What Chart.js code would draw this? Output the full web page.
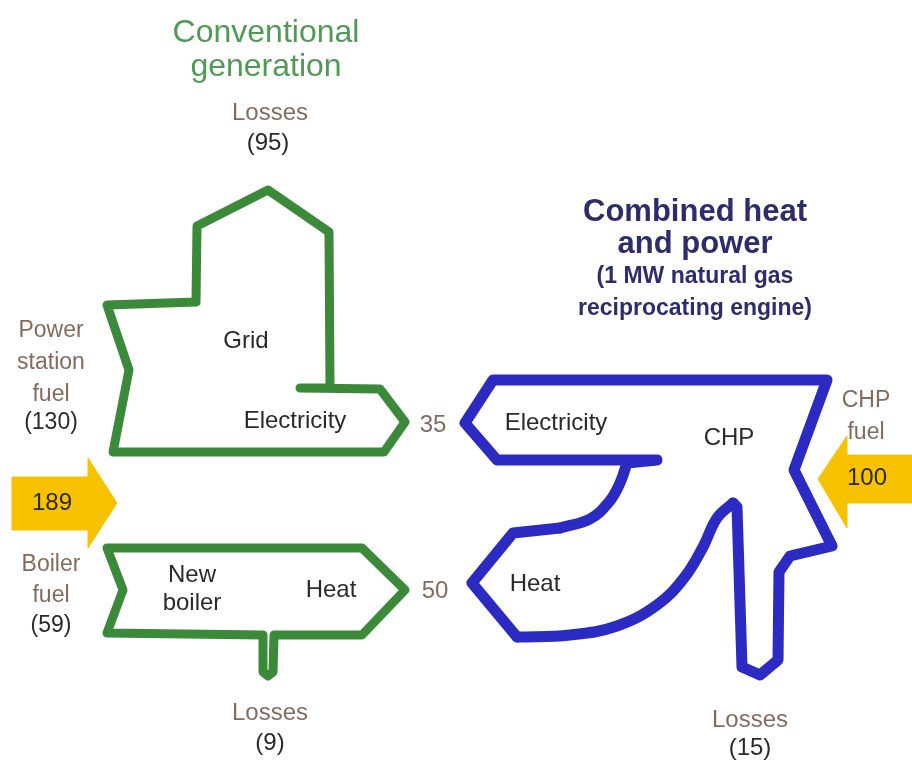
<!DOCTYPE html>
<html>
<head>
<meta charset="utf-8">
<script src="https://cdn.jsdelivr.net/npm/chart.js@4/dist/chart.umd.min.js"></script>
<style>
  html, body { margin: 0; padding: 0; background: #fff; }
  #wrap { width: 912px; height: 763px; }
</style>
</head>
<body>
<div id="wrap"><canvas id="diagram" width="912" height="763"></canvas></div>
<script>
// Outline vertices (diagram units = reference pixels)
const gridShape = [[107,305],[129,370],[113,452],[384,452],[405,422],[380,389],[300,388],[330,388],[329,232],[268,190],[197,226],[196,302],[107,305]];
const boilerShape = [[107,548],[362,548],[405,590],[362,635],[274,635],[273,672],[268,676],[263,672],[263,635],[107,633],[123,590],[107,548]];
const chpOuter = [[627,463],[657,460],[497,460],[465,423],[493,380],[827,380],[794,470],[832,546],[790,556],[779,572],[778,660],[760,675],[742,667],[737,507],[733,503]];
const chpHeatLower = [[733,503],[717,518],[703,547],[684,578],[657,605],[617,626],[570,635],[517,637]];
const chpHeatTip = [[517,637],[472,583],[513,533],[560,528]];
const chpHeatUpper = [[560,528],[590,519],[609,502],[620,483],[627,463]];
const fuelInArrow = [[12,477],[88,477],[88,458],[117,503],[88,548],[88,530],[12,530],[12,477]];
const chpFuelArrow = [[912,455],[847,455],[847,436],[818,479],[847,528],[847,503],[912,503],[912,455]];

// Energy values
const flowLabels = ['Power station fuel', 'Boiler fuel', 'Grid losses', 'Boiler losses', 'Electricity', 'Heat', 'CHP fuel', 'CHP losses'];
const flowValues = [130, 59, 95, 9, 35, 50, 100, 15];
const totalFuel = 189;

const GREEN = '#3a8a3a';
const BLUE = '#2b2bc4';
const YELLOW = '#f7c300';
const BROWN = '#866a5e';
const DARK = '#2a2a2a';
const NAVY = '#2d2d6c';

// Text: [text, x, y, size, color, weight]
const texts = [
  ['Conventional', 266, 33, 32, '#4f9a55', 'normal'],
  ['generation', 266, 67, 32, '#4f9a55', 'normal'],
  ['Losses', 270, 113, 24, BROWN, 'normal'],
  ['(' + flowValues[2] + ')', 268, 143, 24, DARK, 'normal'],
  ['Combined heat', 695, 212, 31, NAVY, 'bold'],
  ['and power', 695, 244, 31, NAVY, 'bold'],
  ['(1 MW natural gas', 695, 277, 23, NAVY, 'bold'],
  ['reciprocating engine)', 695, 309, 23, NAVY, 'bold'],
  ['Power', 51, 331, 23, BROWN, 'normal'],
  ['station', 51, 363, 23, BROWN, 'normal'],
  ['fuel', 51, 395, 23, BROWN, 'normal'],
  ['(' + flowValues[0] + ')', 51, 423, 23, DARK, 'normal'],
  [String(totalFuel), 52, 503, 24, DARK, 'normal'],
  ['Boiler', 51, 565, 23, BROWN, 'normal'],
  ['fuel', 51, 596, 23, BROWN, 'normal'],
  ['(' + flowValues[1] + ')', 51, 626, 23, DARK, 'normal'],
  ['Grid', 246, 341, 24, DARK, 'normal'],
  ['Electricity', 295, 421, 24, DARK, 'normal'],
  ['New', 192, 575, 24, DARK, 'normal'],
  ['boiler', 192, 603, 24, DARK, 'normal'],
  ['Heat', 331, 590, 24, DARK, 'normal'],
  [String(flowValues[4]), 433, 425, 24, BROWN, 'normal'],
  [String(flowValues[5]), 435, 591, 24, BROWN, 'normal'],
  ['Electricity', 556, 423, 24, DARK, 'normal'],
  ['CHP', 729, 438, 24, DARK, 'normal'],
  ['Heat', 535, 584, 24, DARK, 'normal'],
  ['CHP', 866, 401, 23, BROWN, 'normal'],
  ['fuel', 866, 433, 23, BROWN, 'normal'],
  [String(flowValues[6]), 867, 478, 24, DARK, 'normal'],
  ['Losses', 270, 713, 24, BROWN, 'normal'],
  ['(' + flowValues[3] + ')', 270, 743, 24, DARK, 'normal'],
  ['Losses', 750, 720, 24, BROWN, 'normal'],
  ['(' + flowValues[7] + ')', 750, 748, 24, DARK, 'normal']
];

const toPts = arr => arr.map(p => ({ x: p[0], y: p[1] }));

function outline(data, color, width, tension) {
  return {
    data: toPts(data),
    showLine: true,
    borderColor: color,
    borderWidth: width,
    borderJoinStyle: 'round',
    borderCapStyle: 'round',
    pointRadius: 0,
    fill: false,
    tension: tension || 0
  };
}

function arrow(data) {
  return {
    data: toPts(data),
    showLine: true,
    borderColor: YELLOW,
    backgroundColor: YELLOW,
    borderWidth: 1,
    pointRadius: 0,
    fill: 'shape',
    tension: 0
  };
}

// Draw text labels through the scales
const labelPlugin = {
  id: 'labelPlugin',
  afterDatasetsDraw(chart) {
    const ctx = chart.ctx;
    const xs = chart.scales.x, ys = chart.scales.y;
    ctx.save();
    ctx.textAlign = 'center';
    ctx.textBaseline = 'middle';
    texts.forEach(t => {
      ctx.font = t[5] + ' ' + t[3] + 'px "Liberation Sans", Arial, sans-serif';
      ctx.fillStyle = t[4];
      ctx.fillText(t[0], xs.getPixelForValue(t[1]), ys.getPixelForValue(t[2]));
    });
    ctx.restore();
  }
};

new Chart(document.getElementById('diagram'), {
  type: 'scatter',
  data: {
    datasets: [
      arrow(fuelInArrow),
      arrow(chpFuelArrow),
      outline(gridShape, GREEN, 9),
      outline(boilerShape, GREEN, 9),
      outline(chpOuter, BLUE, 11),
      outline(chpHeatLower, BLUE, 11, 0.4),
      outline(chpHeatTip, BLUE, 11),
      outline(chpHeatUpper, BLUE, 11, 0.4)
    ]
  },
  options: {
    responsive: false,
    animation: false,
    layout: { padding: 0 },
    plugins: { legend: { display: false }, tooltip: { enabled: false } },
    scales: {
      x: { type: 'linear', min: 0, max: 912, display: false },
      y: { type: 'linear', min: 0, max: 763, reverse: true, display: false }
    }
  },
  plugins: [labelPlugin]
});
</script>
</body>
</html>
